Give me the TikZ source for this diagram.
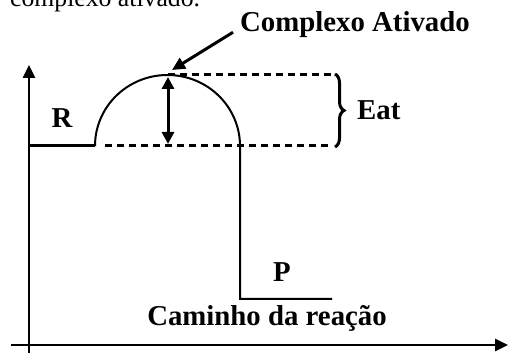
\documentclass[tikz,border=0pt]{standalone}
\usepackage{fontspec}
\setmainfont{Liberation Serif}
\usetikzlibrary{arrows.meta,decorations.pathreplacing}

\begin{document}
\begin{tikzpicture}[x=1pt, y=1pt,
    tip/.style={-{Triangle[length=13pt,width=12pt]}},
    lbl/.style={font=\fontsize{28.8}{34}\selectfont\bfseries, inner sep=0pt},
    nivel/.style={dashed, line width=3pt, dash pattern=on 7pt off 5pt}]
            \useasboundingbox (0, 0) rectangle (508, 353);
            % resto da frase de cima
            \node[anchor=base west, inner sep=0pt, font=\fontsize{25.7}{30}\selectfont] (frase) at (10, 346) {complexo ativado.};
            % eixos
            \draw[line width=2.5pt, tip] (29, 0)--(29, 288);
            \draw[line width=2.5pt, tip] (11, 8)--(508, 8);
            % caminho
            \draw[line width=3pt] (29, 207)--(95, 207);
            \coordinate (reag) at (95, 207);
            \coordinate (topo) at (168, 278);
            \draw[line width=2pt] (reag) arc[start angle=180, end angle=0, x radius=72.5, y radius=71]
                --(240, 54)--(332, 54);
            \draw[nivel] (topo)--(332, 278);
            \draw[nivel] (105, 207)--(332, 207);
            \draw[line width=3pt, {Triangle[length=12pt,width=12pt]}-{Triangle[length=12pt,width=12pt]}] (168, 276)--(168, 209);
            \draw[line width=3pt, decorate, decoration={brace, amplitude=9pt}] (335, 279)--(335, 206);
            % textos
            \node[lbl] (R) at (62, 235) {R};
            \node[lbl] (P) at (282, 81) {P};
            \node[lbl, anchor=west] (eat) at (357, 243) {Eat};
            \node[lbl] (caminho) at (267, 35) {Caminho da reação};
            \node[lbl] (complexo) at (355, 328) {Complexo Ativado};
            \coordinate (pico) at (172, 283);
            \draw[line width=3pt, tip] (complexo.south west) ++(-7, 6) coordinate (c0) (c0)--(pico);
        \end{tikzpicture}
\end{document}
